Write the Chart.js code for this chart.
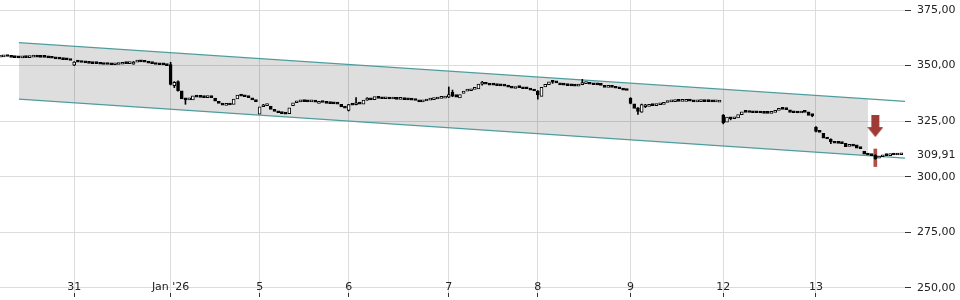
<!DOCTYPE html>
<html>
<head>
<meta charset="utf-8">
<script src="https://cdn.jsdelivr.net/npm/chart.js@4.4.1/dist/chart.umd.min.js"></script>
<style>
  html, body { margin: 0; padding: 0; background: #fff; }
  #wrap { width: 960px; height: 300px; }
</style>
</head>
<body>
<div id="wrap"><canvas id="chart"></canvas></div>
<script>
// sessions shown on the x axis (first one is a partial day, unlabeled)
const dayLabels = ['', '31', "Jan '26", '5', '6', '7', '8', '9', '12', '13']
const dayCounts = [20, 26, 24, 24, 27, 24, 25, 25, 25, 24]

const yTicks = [250, 275, 300, 325, 350, 375]
const lastPrice = 309.91

// candle bodies, one entry per candle
const opens = [
  // dec 30
  353.8, 353.9, 354.1, 354.1, 353.7, 353.6, 353.5, 353.6, 353.6, 353.8, 353.9, 353.8, 353.7, 353.7, 353.5, 353.3, 353.0, 352.9, 352.7, 352.6,
  // dec 31
  350.2, 351.6, 351.6, 351.4, 351.2, 351.0, 350.9, 350.9, 350.6, 350.5, 350.5, 350.4, 350.5, 350.6, 350.9, 350.9, 350.7, 351.6, 351.8, 351.7, 351.5, 351.1, 350.9, 350.5, 350.4, 350.3,
  // jan 2
  350.5, 341.0, 342.8, 338.7, 335.0, 334.6, 334.6, 336.2, 335.8, 335.7, 335.6, 336.0, 335.4, 333.9, 333.0, 332.1, 332.5, 332.5, 335.0, 336.6, 336.3, 336.0, 335.5, 334.5,
  // jan 5
  328.2, 331.5, 332.0, 331.8, 330.3, 329.4, 328.8, 328.4, 328.4, 332.0, 333.3, 333.7, 333.8, 333.8, 333.7, 333.8, 333.0, 333.7, 333.6, 333.0, 332.9, 332.8, 332.6, 331.4,
  // jan 6
  329.8, 332.5, 332.4, 332.8, 332.7, 334.5, 335.0, 334.7, 335.9, 335.3, 335.1, 335.2, 335.0, 335.6, 334.8, 334.9, 334.7, 334.6, 334.5, 334.2, 333.7, 334.1, 334.5, 334.7, 335.0, 335.3, 335.4,
  // jan 7
  335.8, 338.0, 337.0, 335.5, 337.5, 338.5, 338.7, 339.3, 339.5, 341.7, 342.0, 341.6, 341.2, 341.2, 341.0, 340.9, 340.8, 340.7, 339.7, 340.2, 340.1, 339.6, 339.6, 339.0,
  // jan 8
  338.6, 336.2, 340.4, 341.4, 342.9, 342.5, 342.2, 341.3, 341.2, 341.0, 340.9, 340.8, 341.4, 341.9, 342.5, 341.6, 341.4, 341.3, 341.1, 340.2, 340.3, 340.5, 339.8, 339.6, 339.0,
  // jan 9
  335.3, 332.8, 331.0, 329.1, 331.5, 331.7, 332.2, 332.0, 332.4, 332.6, 333.4, 333.7, 333.8, 333.9, 333.9, 333.9, 334.2, 334.1, 333.7, 333.8, 333.9, 333.8, 333.8, 333.7, 333.6,
  // jan 12
  327.8, 324.6, 326.5, 326.1, 326.5, 327.9, 329.2, 329.0, 328.9, 328.8, 328.8, 328.7, 328.5, 328.5, 328.9, 329.9, 330.3, 330.3, 330.1, 328.9, 328.8, 328.7, 329.4, 329.2, 327.6,
  // jan 13
  322.2, 320.6, 319.6, 317.4, 316.8, 315.6, 315.1, 315.1, 315.0, 313.7, 313.9, 314.4, 312.9, 311.5, 310.2, 309.8, 309.7, 308.4, 309.0, 309.6, 309.5, 309.9, 309.8, 309.9,
]
const closes = [
  // dec 30
  353.9, 354.1, 354.1, 353.7, 353.6, 353.5, 353.6, 353.6, 353.8, 353.9, 353.8, 353.7, 353.7, 353.5, 353.3, 353.0, 352.9, 352.7, 352.6, 352.3,
  // dec 31
  351.6, 351.6, 351.4, 351.2, 351.0, 350.9, 350.9, 350.6, 350.5, 350.5, 350.4, 350.5, 350.6, 350.9, 350.9, 351.0, 351.6, 351.8, 351.7, 351.5, 351.1, 350.9, 350.5, 350.4, 350.3, 350.0,
  // jan 2
  341.5, 342.5, 338.7, 335.0, 334.6, 334.8, 336.4, 335.8, 335.7, 335.6, 336.0, 335.6, 334.0, 333.0, 332.2, 332.5, 332.3, 335.0, 336.7, 336.3, 336.0, 335.6, 334.6, 333.8,
  // jan 5
  331.5, 332.0, 332.2, 330.3, 329.4, 328.8, 328.4, 328.2, 331.0, 333.3, 333.7, 333.8, 333.8, 333.7, 333.8, 333.6, 333.7, 333.4, 333.0, 332.9, 332.8, 332.7, 331.4, 330.9,
  // jan 6
  332.5, 332.2, 332.8, 332.7, 334.5, 335.1, 334.6, 336.1, 335.3, 335.1, 335.2, 335.0, 335.1, 334.8, 334.9, 334.7, 334.6, 334.5, 334.3, 333.7, 334.1, 334.5, 334.7, 335.0, 335.3, 335.4, 335.6,
  // jan 7
  337.0, 336.3, 335.8, 337.0, 338.5, 338.7, 339.3, 339.6, 341.7, 342.0, 341.6, 341.2, 341.2, 341.0, 340.9, 340.8, 340.3, 339.9, 340.2, 340.1, 339.6, 339.6, 339.0, 338.6,
  // jan 8
  336.8, 340.2, 341.6, 342.7, 342.5, 342.2, 341.3, 341.2, 341.0, 340.9, 340.8, 341.3, 342.4, 342.5, 341.6, 341.4, 341.3, 341.1, 340.2, 340.3, 340.2, 339.8, 339.6, 339.0, 338.8,
  // jan 9
  333.0, 330.7, 329.4, 332.5, 332.2, 332.2, 332.0, 332.4, 332.6, 333.4, 333.7, 333.8, 333.9, 333.9, 334.0, 334.2, 334.0, 333.7, 333.8, 333.9, 333.8, 333.8, 333.7, 333.8, 334.2,
  // jan 12
  324.3, 326.9, 326.1, 326.4, 328.0, 329.2, 329.0, 328.9, 328.8, 328.8, 328.7, 328.5, 328.5, 328.8, 329.9, 330.3, 330.3, 330.2, 328.9, 328.8, 328.7, 329.5, 329.0, 327.6, 327.5,
  // jan 13
  320.4, 320.0, 317.4, 317.0, 315.8, 315.1, 315.0, 314.9, 313.6, 313.9, 313.8, 312.9, 312.7, 310.2, 309.8, 309.5, 308.1, 309.0, 309.7, 309.5, 310.0, 309.8, 309.9, 309.91,
]

// visible wicks only: [candle, low, high]
const wicks = [
  [20, 350.0, 351.8], [36, 350.6, 351.9],
  [46, 341.3, 351.5], [47, 340.1, 342.8], [48, 338.5, 343.1], [50, 332.6, 335.3],
  [71, 331.6, 332.6],
  [94, 329.6, 332.6], [96, 332.3, 335.6], [99, 334.4, 335.6],
  [121, 335.6, 340.4], [122, 336.0, 339.0], [130, 341.2, 342.9],
  [145, 334.9, 338.8], [149, 342.0, 343.2], [157, 341.4, 343.8],
  [170, 332.8, 335.6], [172, 328.0, 331.1], [173, 329.0, 332.7], [174, 331.1, 332.6],
  [195, 323.8, 328.0], [197, 325.6, 326.7], [219, 327.0, 327.6],
  [220, 320.2, 322.6], [224, 314.9, 317.1], [236, 307.9, 309.9],
]

// trend channel: start, end of shading, end of lines
const channelX = [5.1, 234, 244]
const channelUpper = [360.3, 335.0, 333.9]
const channelLower = [334.9, 309.5, 308.4]

// sell signal
const signalWick = [236, 304.6, 312.5]
const signalArrow = [236, 322.8]

const dayStarts = []
let n = 0
dayCounts.forEach((c) => { dayStarts.push(n); n += c })

const fmt = (v) => v.toFixed(2).replace('.', ',')
const gridColor = '#dcdcdc'
const tealLine = '#4f9c9c'
const signalColor = '#9e3b35'

const arrow = document.createElement('canvas')
arrow.width = 16
arrow.height = 22
const actx = arrow.getContext('2d')
actx.fillStyle = signalColor
actx.fillRect(4, 0, 8, 13)
actx.beginPath()
actx.moveTo(0, 12)
actx.lineTo(16, 12)
actx.lineTo(8, 22)
actx.closePath()
actx.fill()

const pts = (xs, ys) => xs.map((x, i) => ({ x, y: ys[i] }))

const noPadding = (scale) => {
  scale.paddingTop = 0
  scale.paddingBottom = 0
  scale.paddingLeft = 0
  scale.paddingRight = 0
}

Chart.defaults.font.family = 'DejaVu Sans'
Chart.defaults.font.size = 11
Chart.defaults.color = '#222'

new Chart(document.getElementById('chart'), {
  type: 'bar',
  data: {
    datasets: [
      {
        type: 'scatter',
        data: [{ x: signalArrow[0], y: signalArrow[1] }],
        pointStyle: arrow,
        order: -1,
      },
      {
        data: opens.map((o, i) => ({ x: i, y: [o, closes[i]] })),
        backgroundColor: opens.map((o, i) => (closes[i] > o ? '#fff' : '#000')),
        borderColor: '#000',
        borderWidth: 1,
        borderSkipped: false,
        barThickness: 3,
        minBarLength: 2,
        grouped: false,
        order: 0,
      },
      {
        data: wicks.map(([i, lo, hi]) => ({ x: i, y: [lo, hi] })),
        backgroundColor: '#000',
        barThickness: 1,
        grouped: false,
        order: 1,
      },
      {
        data: [{ x: signalWick[0], y: [signalWick[1], signalWick[2]] }],
        backgroundColor: 'rgba(160, 48, 42, 0.85)',
        barThickness: 3,
        grouped: false,
        order: 2,
      },
      {
        type: 'line',
        data: pts(channelX, channelUpper),
        borderColor: tealLine,
        borderWidth: 1.2,
        pointRadius: 0,
        fill: false,
        order: 3,
      },
      {
        type: 'line',
        data: pts(channelX, channelLower),
        borderColor: tealLine,
        borderWidth: 1.2,
        pointRadius: 0,
        fill: false,
        order: 3,
      },
      {
        type: 'line',
        data: pts(channelX.slice(0, 2), channelUpper.slice(0, 2)),
        borderWidth: 0,
        pointRadius: 0,
        backgroundColor: 'rgba(0, 0, 0, 0.13)',
        fill: '+1',
        order: 4,
      },
      {
        type: 'line',
        data: pts(channelX.slice(0, 2), channelLower.slice(0, 2)),
        borderWidth: 0,
        pointRadius: 0,
        fill: false,
        order: 4,
      },
    ],
  },
  options: {
    responsive: true,
    maintainAspectRatio: false,
    animation: false,
    layout: { padding: 0, autoPadding: false },
    plugins: { legend: { display: false }, tooltip: { enabled: false } },
    scales: {
      x: {
        type: 'linear',
        min: 0,
        max: 244,
        offset: false,
        border: { display: false },
        grid: { offset: false, color: gridColor, tickColor: '#333', tickLength: 4 },
        afterBuildTicks: (scale) => {
          scale.ticks = dayStarts.slice(1).map((v) => ({ value: v }))
        },
        afterFit: (scale) => {
          scale.height = 7
          noPadding(scale)
        },
        ticks: {
          autoSkip: false,
          maxRotation: 0,
          mirror: true,
          padding: -1,
          callback: (v) => dayLabels[dayStarts.indexOf(v)],
        },
      },
      y: {
        position: 'right',
        min: 247.75,
        max: 379.5,
        border: { display: false },
        grid: {
          color: (ctx) => (ctx.tick && ctx.tick.value === lastPrice ? 'rgba(0,0,0,0)' : gridColor),
          tickColor: (ctx) => (ctx.tick && ctx.tick.value === lastPrice ? 'rgba(0,0,0,0)' : '#333'),
          tickLength: 6,
        },
        afterBuildTicks: (scale) => {
          scale.ticks = yTicks.concat([lastPrice]).map((v) => ({ value: v }))
        },
        afterFit: (scale) => {
          scale.width = 55
          noPadding(scale)
        },
        ticks: {
          autoSkip: false,
          padding: 6,
          callback: (v) => fmt(v),
        },
      },
    },
  },
})
</script>
</body>
</html>
